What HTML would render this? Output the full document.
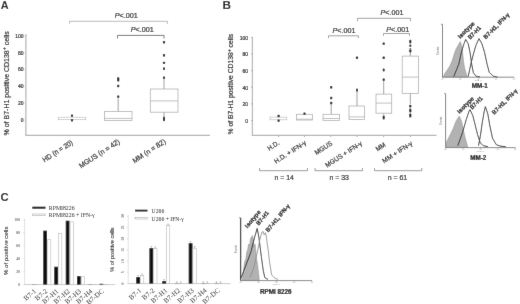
<!DOCTYPE html>
<html><head><meta charset="utf-8"><style>
html,body{margin:0;padding:0;background:#fff;}
svg{display:block;}
</style></head><body>
<svg width="520" height="304" viewBox="0 0 520 304">
<defs><filter id="soft" x="0" y="0" width="520" height="304" filterUnits="userSpaceOnUse"><feConvolveMatrix order="3" kernelMatrix="0.0052 0.0619 0.0052 0.0619 0.7314 0.0619 0.0052 0.0619 0.0052" divisor="1" edgeMode="duplicate"/></filter></defs>
<rect width="520" height="304" fill="#fff"/>
<g filter="url(#soft)">
<rect width="520" height="304" fill="#fff"/>
<text x="0" y="0" font-size="10.3" font-family="Liberation Sans, Arial, sans-serif" font-weight="bold" fill="#111" transform="translate(0.7 8.9) scale(1.06 1)">A</text>
<line x1="25.9" y1="34" x2="25.9" y2="135.3" stroke="#b9b9b9" stroke-width="1.3"/>
<line x1="25.3" y1="135.3" x2="210" y2="135.3" stroke="#b4b4b4" stroke-width="1.2"/>
<text x="23.6" y="121.8" font-size="5" text-anchor="end" font-family="Liberation Sans, Arial, sans-serif" fill="#222" stroke="#222" stroke-width="0.2">0</text>
<line x1="24.6" y1="120.0" x2="25.5" y2="120.0" stroke="#c4c4c4" stroke-width="1"/>
<text x="23.6" y="105.0" font-size="5" text-anchor="end" font-family="Liberation Sans, Arial, sans-serif" fill="#222" stroke="#222" stroke-width="0.2">20</text>
<line x1="24.6" y1="103.2" x2="25.5" y2="103.2" stroke="#c4c4c4" stroke-width="1"/>
<text x="23.6" y="88.2" font-size="5" text-anchor="end" font-family="Liberation Sans, Arial, sans-serif" fill="#222" stroke="#222" stroke-width="0.2">40</text>
<line x1="24.6" y1="86.4" x2="25.5" y2="86.4" stroke="#c4c4c4" stroke-width="1"/>
<text x="23.6" y="71.39999999999999" font-size="5" text-anchor="end" font-family="Liberation Sans, Arial, sans-serif" fill="#222" stroke="#222" stroke-width="0.2">60</text>
<line x1="24.6" y1="69.6" x2="25.5" y2="69.6" stroke="#c4c4c4" stroke-width="1"/>
<text x="23.6" y="54.599999999999994" font-size="5" text-anchor="end" font-family="Liberation Sans, Arial, sans-serif" fill="#222" stroke="#222" stroke-width="0.2">80</text>
<line x1="24.6" y1="52.8" x2="25.5" y2="52.8" stroke="#c4c4c4" stroke-width="1"/>
<text x="23.6" y="37.8" font-size="5" text-anchor="end" font-family="Liberation Sans, Arial, sans-serif" fill="#222" stroke="#222" stroke-width="0.2">100</text>
<line x1="24.6" y1="36.0" x2="25.5" y2="36.0" stroke="#c4c4c4" stroke-width="1"/>
<text x="8.7" y="83.3" font-size="7.0" text-anchor="middle" font-family="Liberation Sans, Arial, sans-serif" fill="#222" stroke="#222" stroke-width="0.2" transform="rotate(-90 8.7 83.3)">% of B7-H1 positive CD138<tspan font-size="5.4" dy="-2.6">+</tspan><tspan dy="2.6"> cells</tspan></text>
<rect x="58.2" y="117.2" width="27.6" height="2.5" fill="#fff" stroke="#b5b5b5" stroke-width="0.6"/>
<rect x="70.95" y="114.40" width="2.1" height="2.4" rx="0.6" fill="#111"/>
<rect x="70.95" y="119.00" width="2.1" height="2.4" rx="0.6" fill="#111"/>
<line x1="118.2" y1="98.5" x2="118.2" y2="111.6" stroke="#a0a0a0" stroke-width="1.0"/>
<rect x="104.5" y="111.6" width="27.5" height="8.900000000000006" fill="#fff" stroke="#ababab" stroke-width="0.75"/>
<line x1="104.5" y1="118.4" x2="132" y2="118.4" stroke="#ababab" stroke-width="0.75"/>
<rect x="117.15" y="77.30" width="2.1" height="2.4" rx="0.6" fill="#111"/>
<rect x="117.15" y="79.00" width="2.1" height="2.4" rx="0.6" fill="#111"/>
<rect x="117.15" y="84.80" width="2.1" height="2.4" rx="0.6" fill="#111"/>
<rect x="117.15" y="95.40" width="2.1" height="2.4" rx="0.6" fill="#111"/>
<line x1="164" y1="78" x2="164" y2="89" stroke="#a0a0a0" stroke-width="1.0"/>
<line x1="164" y1="112.2" x2="164" y2="116.2" stroke="#a0a0a0" stroke-width="1.0"/>
<rect x="150.3" y="89" width="27.69999999999999" height="23.200000000000003" fill="#fff" stroke="#ababab" stroke-width="0.75"/>
<line x1="150.3" y1="100.9" x2="178" y2="100.9" stroke="#ababab" stroke-width="0.75"/>
<rect x="162.95" y="41.00" width="2.1" height="2.4" rx="0.6" fill="#111"/>
<rect x="162.95" y="54.10" width="2.1" height="2.4" rx="0.6" fill="#111"/>
<rect x="162.95" y="61.70" width="2.1" height="2.4" rx="0.6" fill="#111"/>
<rect x="163.05" y="67.2" width="1.9" height="2.8999999999999915" rx="0.95" fill="#111"/>
<rect x="162.95" y="76.40" width="2.1" height="2.4" rx="0.6" fill="#111"/>
<rect x="163.0" y="116.6" width="2.0" height="4.6000000000000085" rx="1.0" fill="#111"/>
<path d="M69.5 23.900000000000002V21.3H167.5V23.900000000000002" fill="none" stroke="#a8a8a8" stroke-width="0.8"/>
<text x="126.2" y="17.8" font-size="7.2" text-anchor="middle" font-family="Liberation Sans, Arial, sans-serif" fill="#222" stroke="#222" stroke-width="0.2"><tspan font-style="italic">P</tspan>&lt;.001</text>
<path d="M117.5 38.4V35.4H164V38.4" fill="none" stroke="#6a6a6a" stroke-width="0.95"/>
<text x="142.3" y="32.4" font-size="7.2" text-anchor="middle" font-family="Liberation Sans, Arial, sans-serif" fill="#222" stroke="#222" stroke-width="0.2"><tspan font-style="italic">P</tspan>&lt;.001</text>
<text x="0" y="0" font-size="7.3" text-anchor="start" font-family="Liberation Sans, Arial, sans-serif" fill="#222" stroke="#222" stroke-width="0.2" transform="translate(44.6 162.5) rotate(-33) scale(0.907 1)">HD (n = 20)</text>
<text x="0" y="0" font-size="7.3" text-anchor="start" font-family="Liberation Sans, Arial, sans-serif" fill="#222" stroke="#222" stroke-width="0.2" transform="translate(80.89999999999999 168.5) rotate(-33) scale(0.958 1)">MGUS (n = 42)</text>
<text x="0" y="0" font-size="7.3" text-anchor="start" font-family="Liberation Sans, Arial, sans-serif" fill="#222" stroke="#222" stroke-width="0.2" transform="translate(134.4 163.5) rotate(-33) scale(0.966 1)">MM (n = 82)</text>
<text x="0" y="0" font-size="10.1" font-family="Liberation Sans, Arial, sans-serif" font-weight="bold" fill="#111" transform="translate(222.6 8.8) scale(1.17 1)">B</text>
<line x1="252.4" y1="37" x2="252.4" y2="135.3" stroke="#b9b9b9" stroke-width="1.3"/>
<line x1="251.8" y1="135.3" x2="436.5" y2="135.3" stroke="#b4b4b4" stroke-width="1.2"/>
<text x="248.0" y="122.8" font-size="5" text-anchor="end" font-family="Liberation Sans, Arial, sans-serif" fill="#222" stroke="#222" stroke-width="0.2">0</text>
<line x1="251.0" y1="120.5" x2="252" y2="120.5" stroke="#aaa" stroke-width="1"/>
<text x="248.0" y="106.2" font-size="5" text-anchor="end" font-family="Liberation Sans, Arial, sans-serif" fill="#222" stroke="#222" stroke-width="0.2">20</text>
<line x1="251.0" y1="103.9" x2="252" y2="103.9" stroke="#aaa" stroke-width="1"/>
<text x="248.0" y="89.60000000000001" font-size="5" text-anchor="end" font-family="Liberation Sans, Arial, sans-serif" fill="#222" stroke="#222" stroke-width="0.2">40</text>
<line x1="251.0" y1="87.30000000000001" x2="252" y2="87.30000000000001" stroke="#aaa" stroke-width="1"/>
<text x="248.0" y="73.0" font-size="5" text-anchor="end" font-family="Liberation Sans, Arial, sans-serif" fill="#222" stroke="#222" stroke-width="0.2">60</text>
<line x1="251.0" y1="70.7" x2="252" y2="70.7" stroke="#aaa" stroke-width="1"/>
<text x="248.0" y="56.400000000000006" font-size="5" text-anchor="end" font-family="Liberation Sans, Arial, sans-serif" fill="#222" stroke="#222" stroke-width="0.2">80</text>
<line x1="251.0" y1="54.10000000000001" x2="252" y2="54.10000000000001" stroke="#aaa" stroke-width="1"/>
<text x="248.0" y="39.8" font-size="5" text-anchor="end" font-family="Liberation Sans, Arial, sans-serif" fill="#222" stroke="#222" stroke-width="0.2">100</text>
<line x1="251.0" y1="37.5" x2="252" y2="37.5" stroke="#aaa" stroke-width="1"/>
<text x="233.3" y="84.2" font-size="6.75" text-anchor="middle" font-family="Liberation Sans, Arial, sans-serif" fill="#222" stroke="#222" stroke-width="0.2" transform="rotate(-90 233.3 84.2)">% of B7-H1 positive CD138<tspan font-size="5.2" dy="-2.5">+</tspan><tspan dy="2.5"> cells</tspan></text>
<line x1="278.6" y1="135.6" x2="278.6" y2="137" stroke="#a8a8a8" stroke-width="1"/>
<line x1="304.5" y1="135.6" x2="304.5" y2="137" stroke="#a8a8a8" stroke-width="1"/>
<line x1="330.8" y1="135.6" x2="330.8" y2="137" stroke="#a8a8a8" stroke-width="1"/>
<line x1="357" y1="135.6" x2="357" y2="137" stroke="#a8a8a8" stroke-width="1"/>
<line x1="383.6" y1="135.6" x2="383.6" y2="137" stroke="#a8a8a8" stroke-width="1"/>
<line x1="410.3" y1="135.6" x2="410.3" y2="137" stroke="#a8a8a8" stroke-width="1"/>
<rect x="270" y="117.1" width="16.8" height="2.7" fill="#fff" stroke="#b5b5b5" stroke-width="0.6"/>
<rect x="277.55" y="114.80" width="2.1" height="2.4" rx="0.6" fill="#111"/>
<rect x="277.55" y="119.40" width="2.1" height="2.4" rx="0.6" fill="#111"/>
<rect x="296.5" y="114.3" width="16.0" height="5.700000000000003" fill="#fff" stroke="#ababab" stroke-width="0.75"/>
<line x1="296.5" y1="119.2" x2="312.5" y2="119.2" stroke="#ababab" stroke-width="0.75"/>
<rect x="303.45" y="112.40" width="2.1" height="2.4" rx="0.6" fill="#111"/>
<line x1="331.2" y1="103" x2="331.2" y2="114.3" stroke="#a0a0a0" stroke-width="1.0"/>
<rect x="323" y="114.3" width="16.5" height="6.200000000000003" fill="#fff" stroke="#ababab" stroke-width="0.75"/>
<line x1="323" y1="118.5" x2="339.5" y2="118.5" stroke="#ababab" stroke-width="0.75"/>
<rect x="330.15" y="86.10" width="2.1" height="2.4" rx="0.6" fill="#111"/>
<rect x="330.15" y="96.80" width="2.1" height="2.4" rx="0.6" fill="#111"/>
<rect x="330.15" y="101.80" width="2.1" height="2.4" rx="0.6" fill="#111"/>
<line x1="357" y1="91.5" x2="357" y2="106" stroke="#a0a0a0" stroke-width="1.0"/>
<rect x="349" y="106" width="15.600000000000023" height="13.5" fill="#fff" stroke="#ababab" stroke-width="0.75"/>
<line x1="349" y1="116.9" x2="364.6" y2="116.9" stroke="#ababab" stroke-width="0.75"/>
<rect x="356.05" y="88.6" width="1.9" height="3.0" rx="0.95" fill="#111"/>
<rect x="355.95" y="56.60" width="2.1" height="2.4" rx="0.6" fill="#111"/>
<line x1="383.7" y1="79.6" x2="383.7" y2="94.1" stroke="#a0a0a0" stroke-width="1.0"/>
<line x1="383.7" y1="113.2" x2="383.7" y2="114.8" stroke="#a0a0a0" stroke-width="1.0"/>
<rect x="376" y="94.1" width="15.699999999999989" height="19.10000000000001" fill="#fff" stroke="#ababab" stroke-width="0.75"/>
<line x1="376" y1="103.1" x2="391.7" y2="103.1" stroke="#ababab" stroke-width="0.75"/>
<rect x="382.65" y="42.40" width="2.1" height="2.4" rx="0.6" fill="#111"/>
<rect x="382.65" y="56.60" width="2.1" height="2.4" rx="0.6" fill="#111"/>
<rect x="382.75" y="68.6" width="1.9" height="2.8000000000000114" rx="0.95" fill="#111"/>
<rect x="382.65" y="78.40" width="2.1" height="2.4" rx="0.6" fill="#111"/>
<rect x="382.7" y="115.6" width="2.0" height="3.9000000000000057" rx="1.0" fill="#111"/>
<line x1="410.3" y1="52.5" x2="410.3" y2="56.1" stroke="#a0a0a0" stroke-width="1.0"/>
<line x1="410.3" y1="93.4" x2="410.3" y2="103.8" stroke="#a0a0a0" stroke-width="1.0"/>
<rect x="402.2" y="56.1" width="16.19999999999999" height="37.300000000000004" fill="#fff" stroke="#ababab" stroke-width="0.75"/>
<line x1="402.2" y1="77.1" x2="418.4" y2="77.1" stroke="#ababab" stroke-width="0.75"/>
<rect x="409.3" y="39.8" width="2.0" height="3.700000000000003" rx="1.0" fill="#111"/>
<rect x="409.3" y="44.6" width="2.0" height="2.5" rx="1.0" fill="#111"/>
<rect x="409.3" y="48.2" width="2.0" height="1.5999999999999943" rx="1.0" fill="#111"/>
<path d="M408.6 50.2 L412 50.2 L410.3 53.2Z" fill="#111"/>
<rect x="409.15000000000003" y="104.8" width="2.3" height="2.799999999999997" rx="1.15" fill="#111"/>
<rect x="409.25" y="108.6" width="2.1" height="4.0" rx="1.05" fill="#111"/>
<rect x="409.25" y="113.5" width="2.1" height="4.099999999999994" rx="1.05" fill="#111"/>
<path d="M328.5 38.199999999999996V35.8H358.5V38.199999999999996" fill="none" stroke="#8c8c8c" stroke-width="0.85"/>
<text x="344" y="32.8" font-size="7.2" text-anchor="middle" font-family="Liberation Sans, Arial, sans-serif" fill="#222" stroke="#222" stroke-width="0.2"><tspan font-style="italic">P</tspan>&lt;.001</text>
<path d="M357.5 21.3V18.3H410.5V21.3" fill="none" stroke="#8c8c8c" stroke-width="0.85"/>
<text x="392" y="14.8" font-size="7.2" text-anchor="middle" font-family="Liberation Sans, Arial, sans-serif" fill="#222" stroke="#222" stroke-width="0.2"><tspan font-style="italic">P</tspan>&lt;.001</text>
<path d="M383.5 35.9V33.5H409.5V35.9" fill="none" stroke="#8c8c8c" stroke-width="0.85"/>
<text x="397.8" y="31.6" font-size="7.2" text-anchor="middle" font-family="Liberation Sans, Arial, sans-serif" fill="#222" stroke="#222" stroke-width="0.2"><tspan font-style="italic">P</tspan>&lt;.001</text>
<text x="0" y="0" font-size="6.8" text-anchor="start" font-family="Liberation Sans, Arial, sans-serif" fill="#222" stroke="#222" stroke-width="0.2" transform="translate(269.3 150.89999999999998) rotate(-33) scale(0.926 1)">H.D.</text>
<text x="0" y="0" font-size="6.8" text-anchor="start" font-family="Liberation Sans, Arial, sans-serif" fill="#222" stroke="#222" stroke-width="0.2" transform="translate(275.90000000000003 163.89999999999998) rotate(-33) scale(0.972 1)">H.D. + IFN-γ</text>
<text x="0" y="0" font-size="6.8" text-anchor="start" font-family="Liberation Sans, Arial, sans-serif" fill="#222" stroke="#222" stroke-width="0.2" transform="translate(316.5 155.2) rotate(-33) scale(0.961 1)">MGUS</text>
<text x="0" y="0" font-size="6.8" text-anchor="start" font-family="Liberation Sans, Arial, sans-serif" fill="#222" stroke="#222" stroke-width="0.2" transform="translate(327.1 167.7) rotate(-33) scale(0.949 1)">MGUS + IFN-γ</text>
<text x="0" y="0" font-size="6.8" text-anchor="start" font-family="Liberation Sans, Arial, sans-serif" fill="#222" stroke="#222" stroke-width="0.2" transform="translate(377.40000000000003 151.6) rotate(-33) scale(0.918 1)">MM</text>
<text x="0" y="0" font-size="6.8" text-anchor="start" font-family="Liberation Sans, Arial, sans-serif" fill="#222" stroke="#222" stroke-width="0.2" transform="translate(384.1 163.39999999999998) rotate(-33) scale(0.969 1)">MM + IFN-γ</text>
<path d="M259.5 168.0V170.7H307.5V168.0" fill="none" stroke="#8c8c8c" stroke-width="0.9"/>
<text x="284.2" y="180.0" font-size="6.9" text-anchor="middle" font-family="Liberation Sans, Arial, sans-serif" fill="#222" stroke="#222" stroke-width="0.2">n = 14</text>
<path d="M315 168.0V170.7H362.5V168.0" fill="none" stroke="#8c8c8c" stroke-width="0.9"/>
<text x="339.2" y="180.0" font-size="6.9" text-anchor="middle" font-family="Liberation Sans, Arial, sans-serif" fill="#222" stroke="#222" stroke-width="0.2">n = 33</text>
<path d="M374.5 168.0V170.7H421.8V168.0" fill="none" stroke="#8c8c8c" stroke-width="0.9"/>
<text x="397.4" y="180.0" font-size="6.9" text-anchor="middle" font-family="Liberation Sans, Arial, sans-serif" fill="#222" stroke="#222" stroke-width="0.2">n = 61</text>
<path d="M443.4 77.1 L444.4 74.0 L446.5 71.0 L448.6 68.0 L450.3 65.0 L452.2 60.5 L454.2 54.0 L455.8 49.5 L458.0 45.5 L460.3 41.5 L461.3 44.5 L462.3 49.0 L463.0 56.0 L463.6 62.0 L464.6 68.0 L466.0 73.0 L467.4 76.5 L467.6 77.1 Z" fill="#b2b2b2" stroke="#8a8a8a" stroke-width="0.5" stroke-linejoin="round"/>
<path d="M453.7 76.6 L458.8 64.2 L461.4 52.2 L464.0 43.7 L465.7 39.4 L468.2 43.7 L470.0 52.2 L471.7 64.2 L473.4 72.8 L476.0 76.2 L480.0 76.8" fill="none" stroke="#1a1a1a" stroke-width="0.85" stroke-linejoin="round"/>
<path d="M468.2 76.6 L470.8 64.2 L473.4 54.0 L475.9 45.4 L479.0 38.6 L481.9 43.7 L484.5 52.2 L487.1 64.2 L489.3 72.5 L493.5 76.2 L497.5 77.0" fill="none" stroke="#1a1a1a" stroke-width="0.85" stroke-linejoin="round"/>
<line x1="442.5" y1="24.3" x2="442.5" y2="77.2" stroke="#7a7a7a" stroke-width="1.0"/>
<line x1="440.9" y1="24.3" x2="442.5" y2="24.3" stroke="#7a7a7a" stroke-width="0.8"/>
<line x1="442.5" y1="77.2" x2="514" y2="77.2" stroke="#7a7a7a" stroke-width="0.9"/>
<line x1="442.5" y1="77.2" x2="442.5" y2="78.4" stroke="#7a7a7a" stroke-width="0.6"/>
<line x1="460.375" y1="77.2" x2="460.375" y2="78.4" stroke="#7a7a7a" stroke-width="0.6"/>
<line x1="478.25" y1="77.2" x2="478.25" y2="78.4" stroke="#7a7a7a" stroke-width="0.6"/>
<line x1="496.125" y1="77.2" x2="496.125" y2="78.4" stroke="#7a7a7a" stroke-width="0.6"/>
<line x1="514.0" y1="77.2" x2="514.0" y2="78.4" stroke="#7a7a7a" stroke-width="0.6"/>
<text x="439.3" y="50.75" font-size="2.6" text-anchor="middle" font-family="Liberation Sans, Arial, sans-serif" fill="#666" transform="rotate(-90 439.3 50.75)">Events</text>
<text x="478.25" y="81.10000000000001" font-size="2.5" text-anchor="middle" font-family="Liberation Sans, Arial, sans-serif" fill="#888">FL2-H</text>
<text x="442.5" y="79.8" font-size="1.8" text-anchor="middle" font-family="Liberation Sans, Arial, sans-serif" fill="#999">10<tspan font-size="1.2" dy="-0.6">0</tspan></text>
<text x="460.375" y="79.8" font-size="1.8" text-anchor="middle" font-family="Liberation Sans, Arial, sans-serif" fill="#999">10<tspan font-size="1.2" dy="-0.6">1</tspan></text>
<text x="478.25" y="79.8" font-size="1.8" text-anchor="middle" font-family="Liberation Sans, Arial, sans-serif" fill="#999">10<tspan font-size="1.2" dy="-0.6">2</tspan></text>
<text x="496.125" y="79.8" font-size="1.8" text-anchor="middle" font-family="Liberation Sans, Arial, sans-serif" fill="#999">10<tspan font-size="1.2" dy="-0.6">3</tspan></text>
<text x="514.0" y="79.8" font-size="1.8" text-anchor="middle" font-family="Liberation Sans, Arial, sans-serif" fill="#999">10<tspan font-size="1.2" dy="-0.6">4</tspan></text>
<text x="0" y="0" font-size="6.0" text-anchor="start" font-family="Liberation Sans, Arial, sans-serif" font-weight="bold" fill="#111" stroke="#111" stroke-width="0.2" transform="translate(460.3 38.9) rotate(-45) scale(1.000 1)">Isotype</text>
<text x="0" y="0" font-size="6.0" text-anchor="start" font-family="Liberation Sans, Arial, sans-serif" font-weight="bold" fill="#111" stroke="#111" stroke-width="0.2" transform="translate(470.2 39.699999999999996) rotate(-45) scale(0.923 1)">B7-H1</text>
<text x="0" y="0" font-size="6.0" text-anchor="start" font-family="Liberation Sans, Arial, sans-serif" font-weight="bold" fill="#111" stroke="#111" stroke-width="0.2" transform="translate(485.8 39.5) rotate(-45) scale(0.967 1)">B7-H1, IFN-γ</text>
<text x="479.8" y="88.1" font-size="6.3" text-anchor="middle" font-family="Liberation Sans, Arial, sans-serif" font-weight="bold" fill="#111" stroke="#111" stroke-width="0.2">MM-1</text>
<path d="M446.6 141.9 L449.4 136.3 L453.1 128.8 L455.9 121.3 L459.3 116.0 L461.6 121.3 L463.5 130.6 L465.3 138.2 L467.2 144.7 L467.8 147.2 L446.0 147.2 Z" fill="#b2b2b2" stroke="#8a8a8a" stroke-width="0.5" stroke-linejoin="round"/>
<path d="M457.8 145.7 L462.5 132.5 L466.3 119.4 L469.1 111.0 L470.0 109.6 L472.8 115.6 L474.7 123.1 L477.5 134.4 L480.3 142.8 L483.2 145.7 L488.0 146.6" fill="none" stroke="#1a1a1a" stroke-width="0.85" stroke-linejoin="round"/>
<path d="M478.5 145.7 L480.3 136.3 L482.2 123.1 L484.1 111.9 L485.4 106.6 L487.8 113.8 L489.7 125.0 L492.5 138.2 L496.3 144.7 L500.0 146.0 L506.0 146.8" fill="none" stroke="#1a1a1a" stroke-width="0.85" stroke-linejoin="round"/>
<line x1="445.6" y1="93.6" x2="445.6" y2="147.6" stroke="#7a7a7a" stroke-width="1.0"/>
<line x1="444.0" y1="93.6" x2="445.6" y2="93.6" stroke="#7a7a7a" stroke-width="0.8"/>
<line x1="445.6" y1="147.6" x2="515.4" y2="147.6" stroke="#7a7a7a" stroke-width="0.9"/>
<line x1="445.6" y1="147.6" x2="445.6" y2="148.79999999999998" stroke="#7a7a7a" stroke-width="0.6"/>
<line x1="463.05" y1="147.6" x2="463.05" y2="148.79999999999998" stroke="#7a7a7a" stroke-width="0.6"/>
<line x1="480.5" y1="147.6" x2="480.5" y2="148.79999999999998" stroke="#7a7a7a" stroke-width="0.6"/>
<line x1="497.95" y1="147.6" x2="497.95" y2="148.79999999999998" stroke="#7a7a7a" stroke-width="0.6"/>
<line x1="515.4" y1="147.6" x2="515.4" y2="148.79999999999998" stroke="#7a7a7a" stroke-width="0.6"/>
<text x="442.40000000000003" y="120.6" font-size="2.6" text-anchor="middle" font-family="Liberation Sans, Arial, sans-serif" fill="#666" transform="rotate(-90 442.40000000000003 120.6)">Events</text>
<text x="480.5" y="151.5" font-size="2.5" text-anchor="middle" font-family="Liberation Sans, Arial, sans-serif" fill="#888">FL2-H</text>
<text x="445.6" y="150.2" font-size="1.8" text-anchor="middle" font-family="Liberation Sans, Arial, sans-serif" fill="#999">10<tspan font-size="1.2" dy="-0.6">0</tspan></text>
<text x="463.05" y="150.2" font-size="1.8" text-anchor="middle" font-family="Liberation Sans, Arial, sans-serif" fill="#999">10<tspan font-size="1.2" dy="-0.6">1</tspan></text>
<text x="480.5" y="150.2" font-size="1.8" text-anchor="middle" font-family="Liberation Sans, Arial, sans-serif" fill="#999">10<tspan font-size="1.2" dy="-0.6">2</tspan></text>
<text x="497.95" y="150.2" font-size="1.8" text-anchor="middle" font-family="Liberation Sans, Arial, sans-serif" fill="#999">10<tspan font-size="1.2" dy="-0.6">3</tspan></text>
<text x="515.4" y="150.2" font-size="1.8" text-anchor="middle" font-family="Liberation Sans, Arial, sans-serif" fill="#999">10<tspan font-size="1.2" dy="-0.6">4</tspan></text>
<text x="0" y="0" font-size="6.0" text-anchor="start" font-family="Liberation Sans, Arial, sans-serif" font-weight="bold" fill="#111" stroke="#111" stroke-width="0.2" transform="translate(459.6 113.89999999999999) rotate(-45) scale(1.000 1)">Isotype</text>
<text x="0" y="0" font-size="6.0" text-anchor="start" font-family="Liberation Sans, Arial, sans-serif" font-weight="bold" fill="#111" stroke="#111" stroke-width="0.2" transform="translate(472.2 109.8) rotate(-45) scale(0.894 1)">B7-H1</text>
<text x="0" y="0" font-size="6.0" text-anchor="start" font-family="Liberation Sans, Arial, sans-serif" font-weight="bold" fill="#111" stroke="#111" stroke-width="0.2" transform="translate(494.3 114.89999999999999) rotate(-45) scale(0.939 1)">B7-H1, IFN-γ</text>
<text x="478.3" y="159.6" font-size="6.3" text-anchor="middle" font-family="Liberation Sans, Arial, sans-serif" font-weight="bold" fill="#111" stroke="#111" stroke-width="0.2">MM-2</text>
<path d="M242.6 279.0 L243.5 270.0 L244.6 262.0 L245.8 259.0 L246.8 252.0 L247.6 250.0 L248.6 244.0 L249.6 246.0 L250.4 239.0 L251.4 237.0 L252.6 235.5 L253.4 240.0 L254.2 247.0 L255.0 244.0 L255.8 251.0 L256.6 259.0 L257.4 263.0 L258.2 270.0 L259.0 277.0 L259.2 280.4 L242.0 280.4 Z" fill="#b2b2b2" stroke="#8a8a8a" stroke-width="0.5" stroke-linejoin="round"/>
<path d="M241.0 278.3 L244.0 270.2 L247.5 261.0 L251.0 251.8 L254.4 238.0 L257.2 228.4 L259.0 238.0 L261.3 256.4 L263.2 270.2 L264.8 277.6 L268.0 279.5" fill="none" stroke="#1a1a1a" stroke-width="0.85" stroke-linejoin="round"/>
<path d="M249.8 277.6 L252.6 271.0 L254.4 265.6 L256.2 257.0 L257.9 249.5 L259.5 241.0 L260.9 235.7 L262.0 232.0 L263.2 231.6 L264.2 235.0 L265.5 232.6 L266.4 237.0 L267.1 242.6 L268.2 250.0 L269.4 261.0 L270.5 268.0 L271.7 274.9 L274.0 277.6 L278.0 279.5" fill="none" stroke="#8a8a8a" stroke-width="0.85" stroke-linejoin="round"/>
<line x1="240.6" y1="217.8" x2="240.6" y2="280.6" stroke="#333" stroke-width="1.3"/>
<line x1="239.0" y1="217.8" x2="240.6" y2="217.8" stroke="#7a7a7a" stroke-width="0.8"/>
<line x1="240.6" y1="280.6" x2="312" y2="280.6" stroke="#7a7a7a" stroke-width="0.9"/>
<line x1="240.6" y1="280.6" x2="240.6" y2="281.8" stroke="#7a7a7a" stroke-width="0.6"/>
<line x1="258.45" y1="280.6" x2="258.45" y2="281.8" stroke="#7a7a7a" stroke-width="0.6"/>
<line x1="276.3" y1="280.6" x2="276.3" y2="281.8" stroke="#7a7a7a" stroke-width="0.6"/>
<line x1="294.15" y1="280.6" x2="294.15" y2="281.8" stroke="#7a7a7a" stroke-width="0.6"/>
<line x1="312.0" y1="280.6" x2="312.0" y2="281.8" stroke="#7a7a7a" stroke-width="0.6"/>
<text x="237.4" y="249.20000000000002" font-size="2.6" text-anchor="middle" font-family="Liberation Sans, Arial, sans-serif" fill="#666" transform="rotate(-90 237.4 249.20000000000002)">Events</text>
<text x="276.3" y="284.5" font-size="2.5" text-anchor="middle" font-family="Liberation Sans, Arial, sans-serif" fill="#888">FL2-H</text>
<text x="240.6" y="283.20000000000005" font-size="1.8" text-anchor="middle" font-family="Liberation Sans, Arial, sans-serif" fill="#999">10<tspan font-size="1.2" dy="-0.6">0</tspan></text>
<text x="258.45" y="283.20000000000005" font-size="1.8" text-anchor="middle" font-family="Liberation Sans, Arial, sans-serif" fill="#999">10<tspan font-size="1.2" dy="-0.6">1</tspan></text>
<text x="276.3" y="283.20000000000005" font-size="1.8" text-anchor="middle" font-family="Liberation Sans, Arial, sans-serif" fill="#999">10<tspan font-size="1.2" dy="-0.6">2</tspan></text>
<text x="294.15" y="283.20000000000005" font-size="1.8" text-anchor="middle" font-family="Liberation Sans, Arial, sans-serif" fill="#999">10<tspan font-size="1.2" dy="-0.6">3</tspan></text>
<text x="312.0" y="283.20000000000005" font-size="1.8" text-anchor="middle" font-family="Liberation Sans, Arial, sans-serif" fill="#999">10<tspan font-size="1.2" dy="-0.6">4</tspan></text>
<text x="0" y="0" font-size="6.0" text-anchor="start" font-family="Liberation Sans, Arial, sans-serif" font-weight="bold" fill="#111" stroke="#111" stroke-width="0.2" transform="translate(247.60000000000002 228.39999999999998) rotate(-50) scale(1.000 1)">Isotype</text>
<text x="0" y="0" font-size="6.0" text-anchor="start" font-family="Liberation Sans, Arial, sans-serif" font-weight="bold" fill="#111" stroke="#111" stroke-width="0.2" transform="translate(258.8 225.79999999999998) rotate(-50) scale(0.952 1)">B7-H1</text>
<text x="0" y="0" font-size="6.0" text-anchor="start" font-family="Liberation Sans, Arial, sans-serif" font-weight="bold" fill="#111" stroke="#111" stroke-width="0.2" transform="translate(268.2 232.6) rotate(-50) scale(0.967 1)">B7-H1, IFN-γ</text>
<text x="275.8" y="293.9" font-size="6.3" text-anchor="middle" font-family="Liberation Sans, Arial, sans-serif" font-weight="bold" fill="#111" stroke="#111" stroke-width="0.2">RPMI 8226</text>
<text x="0" y="0" font-size="10.6" font-family="Liberation Sans, Arial, sans-serif" font-weight="bold" fill="#111" transform="translate(0.5 201.2) scale(1.07 1)">C</text>
<rect x="32.3" y="206.7" width="13.2" height="2.0" fill="#111"/>
<rect x="32.5" y="214.0" width="12.8" height="1.6" fill="#fff" stroke="#aaa" stroke-width="0.6"/>
<text x="48.8" y="209.5" font-size="5.8" text-anchor="start" font-family="Liberation Serif, Times New Roman, serif" fill="#222">RPMI8226</text>
<text x="48.8" y="217.1" font-size="5.8" text-anchor="start" font-family="Liberation Serif, Times New Roman, serif" fill="#222">RPMI8226 + IFN-γ</text>
<line x1="24.6" y1="219" x2="24.6" y2="284.6" stroke="#ccc" stroke-width="0.6"/>
<line x1="24.6" y1="284.6" x2="115.2" y2="284.6" stroke="#bbb" stroke-width="0.8"/>
<text x="20.2" y="286.0" font-size="3.9" text-anchor="end" font-family="Liberation Serif, Times New Roman, serif" fill="#222">0</text>
<line x1="23.3" y1="284.6" x2="24.6" y2="284.6" stroke="#bbb" stroke-width="0.5"/>
<text x="20.2" y="273.0" font-size="3.9" text-anchor="end" font-family="Liberation Serif, Times New Roman, serif" fill="#222">20</text>
<line x1="23.3" y1="271.6" x2="24.6" y2="271.6" stroke="#bbb" stroke-width="0.5"/>
<text x="20.2" y="260.0" font-size="3.9" text-anchor="end" font-family="Liberation Serif, Times New Roman, serif" fill="#222">40</text>
<line x1="23.3" y1="258.6" x2="24.6" y2="258.6" stroke="#bbb" stroke-width="0.5"/>
<text x="20.2" y="247.00000000000003" font-size="3.9" text-anchor="end" font-family="Liberation Serif, Times New Roman, serif" fill="#222">60</text>
<line x1="23.3" y1="245.60000000000002" x2="24.6" y2="245.60000000000002" stroke="#bbb" stroke-width="0.5"/>
<text x="20.2" y="234.00000000000003" font-size="3.9" text-anchor="end" font-family="Liberation Serif, Times New Roman, serif" fill="#222">80</text>
<line x1="23.3" y1="232.60000000000002" x2="24.6" y2="232.60000000000002" stroke="#bbb" stroke-width="0.5"/>
<text x="20.2" y="221.00000000000003" font-size="3.9" text-anchor="end" font-family="Liberation Serif, Times New Roman, serif" fill="#222">100</text>
<line x1="23.3" y1="219.60000000000002" x2="24.6" y2="219.60000000000002" stroke="#bbb" stroke-width="0.5"/>
<text x="0" y="0" font-size="6.1" text-anchor="middle" font-family="Liberation Sans, Arial, sans-serif" fill="#222" stroke="#222" stroke-width="0.08" transform="translate(8.0 250.8) rotate(-90) scale(1.002 1)">% of positive cells</text>
<rect x="32" y="284.41" width="3.7" height="0.20" fill="#0a0a0a"/>
<rect x="36.3" y="284.28" width="3.3" height="0.33" fill="#fff" stroke="#aaa" stroke-width="0.5"/>
<text x="36.8" y="291.9" font-size="7.0" text-anchor="end" font-family="Liberation Serif, Times New Roman, serif" fill="#222" transform="rotate(-40 36.8 291.9)">B7-1</text>
<rect x="43.25" y="230.65" width="3.7" height="53.95" fill="#0a0a0a"/>
<rect x="47.55" y="239.75" width="3.3" height="44.85" fill="#fff" stroke="#aaa" stroke-width="0.5"/>
<text x="48.05" y="291.9" font-size="7.0" text-anchor="end" font-family="Liberation Serif, Times New Roman, serif" fill="#222" transform="rotate(-40 48.05 291.9)">B7-2</text>
<rect x="54.25" y="266.73" width="3.7" height="17.88" fill="#0a0a0a"/>
<rect x="58.55" y="233.25" width="3.3" height="51.35" fill="#fff" stroke="#aaa" stroke-width="0.5"/>
<text x="59.05" y="291.9" font-size="7.0" text-anchor="end" font-family="Liberation Serif, Times New Roman, serif" fill="#222" transform="rotate(-40 59.05 291.9)">B7-H1</text>
<rect x="65.75" y="220.71" width="3.7" height="63.90" fill="#0a0a0a"/>
<rect x="70.05" y="221.88" width="3.3" height="62.73" fill="#fff" stroke="#aaa" stroke-width="0.5"/>
<text x="70.55" y="291.9" font-size="7.0" text-anchor="end" font-family="Liberation Serif, Times New Roman, serif" fill="#222" transform="rotate(-40 70.55 291.9)">B7-H2</text>
<rect x="77" y="276.15" width="3.7" height="8.45" fill="#0a0a0a"/>
<rect x="81.3" y="276.80" width="3.3" height="7.80" fill="#fff" stroke="#aaa" stroke-width="0.5"/>
<text x="81.8" y="291.9" font-size="7.0" text-anchor="end" font-family="Liberation Serif, Times New Roman, serif" fill="#222" transform="rotate(-40 81.8 291.9)">B7-H3</text>
<rect x="88.25" y="284.41" width="3.7" height="0.20" fill="#0a0a0a"/>
<rect x="92.55" y="284.41" width="3.3" height="0.20" fill="#fff" stroke="#aaa" stroke-width="0.5"/>
<text x="93.05" y="291.9" font-size="7.0" text-anchor="end" font-family="Liberation Serif, Times New Roman, serif" fill="#222" transform="rotate(-40 93.05 291.9)">B7-H4</text>
<rect x="99.5" y="283.82" width="3.7" height="0.78" fill="#0a0a0a"/>
<rect x="103.8" y="284.47" width="3.3" height="0.13" fill="#fff" stroke="#aaa" stroke-width="0.5"/>
<text x="104.3" y="291.9" font-size="7.0" text-anchor="end" font-family="Liberation Serif, Times New Roman, serif" fill="#222" transform="rotate(-40 104.3 291.9)">B7-DC</text>
<rect x="135" y="209.7" width="12.5" height="1.8" fill="#111"/>
<rect x="135" y="217.4" width="12.5" height="1.6" fill="#fff" stroke="#999" stroke-width="0.5"/>
<text x="151.6" y="213.0" font-size="5.7" text-anchor="start" font-family="Liberation Serif, Times New Roman, serif" fill="#222">U266</text>
<text x="151.6" y="220.7" font-size="5.7" text-anchor="start" font-family="Liberation Serif, Times New Roman, serif" fill="#222">U266 + IFN-γ</text>
<line x1="128.2" y1="215" x2="128.2" y2="283.6" stroke="#ccc" stroke-width="0.6"/>
<line x1="128.2" y1="283.6" x2="230.5" y2="283.6" stroke="#bbb" stroke-width="0.8"/>
<text x="123.8" y="283.6" font-size="3.6" text-anchor="middle" font-family="Liberation Serif, Times New Roman, serif" fill="#222" transform="rotate(-90 123.8 283.6)">0</text>
<line x1="127" y1="283.6" x2="128.2" y2="283.6" stroke="#bbb" stroke-width="0.5"/>
<text x="123.8" y="272.38500000000005" font-size="3.6" text-anchor="middle" font-family="Liberation Serif, Times New Roman, serif" fill="#222" transform="rotate(-90 123.8 272.38500000000005)">5</text>
<line x1="127" y1="272.38500000000005" x2="128.2" y2="272.38500000000005" stroke="#bbb" stroke-width="0.5"/>
<text x="123.8" y="261.17" font-size="3.6" text-anchor="middle" font-family="Liberation Serif, Times New Roman, serif" fill="#222" transform="rotate(-90 123.8 261.17)">10</text>
<line x1="127" y1="261.17" x2="128.2" y2="261.17" stroke="#bbb" stroke-width="0.5"/>
<text x="123.8" y="249.95500000000004" font-size="3.6" text-anchor="middle" font-family="Liberation Serif, Times New Roman, serif" fill="#222" transform="rotate(-90 123.8 249.95500000000004)">15</text>
<line x1="127" y1="249.95500000000004" x2="128.2" y2="249.95500000000004" stroke="#bbb" stroke-width="0.5"/>
<text x="123.8" y="238.74" font-size="3.6" text-anchor="middle" font-family="Liberation Serif, Times New Roman, serif" fill="#222" transform="rotate(-90 123.8 238.74)">20</text>
<line x1="127" y1="238.74" x2="128.2" y2="238.74" stroke="#bbb" stroke-width="0.5"/>
<text x="123.8" y="227.52500000000003" font-size="3.6" text-anchor="middle" font-family="Liberation Serif, Times New Roman, serif" fill="#222" transform="rotate(-90 123.8 227.52500000000003)">25</text>
<line x1="127" y1="227.52500000000003" x2="128.2" y2="227.52500000000003" stroke="#bbb" stroke-width="0.5"/>
<text x="123.8" y="216.31000000000003" font-size="3.6" text-anchor="middle" font-family="Liberation Serif, Times New Roman, serif" fill="#222" transform="rotate(-90 123.8 216.31000000000003)">30</text>
<line x1="127" y1="216.31000000000003" x2="128.2" y2="216.31000000000003" stroke="#bbb" stroke-width="0.5"/>
<text x="114.4" y="249.6" font-size="5.6" text-anchor="middle" font-family="Liberation Sans, Arial, sans-serif" fill="#222" stroke="#222" stroke-width="0.08" transform="rotate(-90 114.4 249.6)">% of positive cells</text>
<rect x="136.20000000000002" y="277.10" width="3.8" height="6.50" fill="#0a0a0a"/>
<rect x="140.4" y="275.53" width="3.4" height="8.07" fill="#fff" stroke="#aaa" stroke-width="0.5"/>
<line x1="138.10000000000002" y1="275.4953" x2="138.10000000000002" y2="277.0953" stroke="#777" stroke-width="0.4"/>
<line x1="137.3" y1="275.4953" x2="138.90000000000003" y2="275.4953" stroke="#777" stroke-width="0.4"/>
<line x1="142.10000000000002" y1="273.9252" x2="142.10000000000002" y2="275.52520000000004" stroke="#777" stroke-width="0.4"/>
<line x1="141.3" y1="273.9252" x2="142.90000000000003" y2="273.9252" stroke="#777" stroke-width="0.4"/>
<text x="141.9" y="291.3" font-size="7.0" text-anchor="end" font-family="Liberation Serif, Times New Roman, serif" fill="#222" transform="rotate(-40 141.9 291.3)">B7-1</text>
<rect x="149.4" y="248.16" width="3.8" height="35.44" fill="#0a0a0a"/>
<rect x="153.6" y="248.61" width="3.4" height="34.99" fill="#fff" stroke="#aaa" stroke-width="0.5"/>
<line x1="151.3" y1="246.56060000000002" x2="151.3" y2="248.16060000000002" stroke="#777" stroke-width="0.4"/>
<line x1="150.5" y1="246.56060000000002" x2="152.10000000000002" y2="246.56060000000002" stroke="#777" stroke-width="0.4"/>
<line x1="155.3" y1="247.00920000000002" x2="155.3" y2="248.60920000000002" stroke="#777" stroke-width="0.4"/>
<line x1="154.5" y1="247.00920000000002" x2="156.10000000000002" y2="247.00920000000002" stroke="#777" stroke-width="0.4"/>
<text x="155.1" y="291.3" font-size="7.0" text-anchor="end" font-family="Liberation Serif, Times New Roman, serif" fill="#222" transform="rotate(-40 155.1 291.3)">B7-2</text>
<rect x="162.20000000000002" y="281.13" width="3.8" height="2.47" fill="#0a0a0a"/>
<rect x="166.4" y="225.73" width="3.4" height="57.87" fill="#fff" stroke="#aaa" stroke-width="0.5"/>
<line x1="164.10000000000002" y1="279.5327" x2="164.10000000000002" y2="281.1327" stroke="#777" stroke-width="0.4"/>
<line x1="163.3" y1="279.5327" x2="164.90000000000003" y2="279.5327" stroke="#777" stroke-width="0.4"/>
<line x1="168.10000000000002" y1="224.13060000000004" x2="168.10000000000002" y2="225.73060000000004" stroke="#777" stroke-width="0.4"/>
<line x1="167.3" y1="224.13060000000004" x2="168.90000000000003" y2="224.13060000000004" stroke="#777" stroke-width="0.4"/>
<text x="167.9" y="291.3" font-size="7.0" text-anchor="end" font-family="Liberation Serif, Times New Roman, serif" fill="#222" transform="rotate(-40 167.9 291.3)">B7-H1</text>
<rect x="174.9" y="283.38" width="3.8" height="0.22" fill="#0a0a0a"/>
<rect x="179.1" y="283.38" width="3.4" height="0.22" fill="#fff" stroke="#aaa" stroke-width="0.5"/>
<line x1="176.8" y1="281.7757" x2="176.8" y2="283.3757" stroke="#777" stroke-width="0.4"/>
<line x1="176.0" y1="281.7757" x2="177.60000000000002" y2="281.7757" stroke="#777" stroke-width="0.4"/>
<line x1="180.8" y1="281.7757" x2="180.8" y2="283.3757" stroke="#777" stroke-width="0.4"/>
<line x1="180.0" y1="281.7757" x2="181.60000000000002" y2="281.7757" stroke="#777" stroke-width="0.4"/>
<text x="180.6" y="291.3" font-size="7.0" text-anchor="end" font-family="Liberation Serif, Times New Roman, serif" fill="#222" transform="rotate(-40 180.6 291.3)">B7-H2</text>
<rect x="188.70000000000002" y="243.23" width="3.8" height="40.37" fill="#0a0a0a"/>
<rect x="192.9" y="248.16" width="3.4" height="35.44" fill="#fff" stroke="#aaa" stroke-width="0.5"/>
<line x1="190.60000000000002" y1="241.62600000000003" x2="190.60000000000002" y2="243.22600000000003" stroke="#777" stroke-width="0.4"/>
<line x1="189.8" y1="241.62600000000003" x2="191.40000000000003" y2="241.62600000000003" stroke="#777" stroke-width="0.4"/>
<line x1="194.60000000000002" y1="246.56060000000002" x2="194.60000000000002" y2="248.16060000000002" stroke="#777" stroke-width="0.4"/>
<line x1="193.8" y1="246.56060000000002" x2="195.40000000000003" y2="246.56060000000002" stroke="#777" stroke-width="0.4"/>
<text x="194.4" y="291.3" font-size="7.0" text-anchor="end" font-family="Liberation Serif, Times New Roman, serif" fill="#222" transform="rotate(-40 194.4 291.3)">B7-H3</text>
<rect x="201.4" y="283.38" width="3.8" height="0.22" fill="#0a0a0a"/>
<rect x="205.6" y="283.38" width="3.4" height="0.22" fill="#fff" stroke="#aaa" stroke-width="0.5"/>
<line x1="203.3" y1="281.7757" x2="203.3" y2="283.3757" stroke="#777" stroke-width="0.4"/>
<line x1="202.5" y1="281.7757" x2="204.10000000000002" y2="281.7757" stroke="#777" stroke-width="0.4"/>
<line x1="207.3" y1="281.7757" x2="207.3" y2="283.3757" stroke="#777" stroke-width="0.4"/>
<line x1="206.5" y1="281.7757" x2="208.10000000000002" y2="281.7757" stroke="#777" stroke-width="0.4"/>
<text x="207.1" y="291.3" font-size="7.0" text-anchor="end" font-family="Liberation Serif, Times New Roman, serif" fill="#222" transform="rotate(-40 207.1 291.3)">B7-H4</text>
<rect x="214.6" y="283.38" width="3.8" height="0.22" fill="#0a0a0a"/>
<rect x="218.79999999999998" y="283.38" width="3.4" height="0.22" fill="#fff" stroke="#aaa" stroke-width="0.5"/>
<line x1="216.5" y1="281.7757" x2="216.5" y2="283.3757" stroke="#777" stroke-width="0.4"/>
<line x1="215.7" y1="281.7757" x2="217.3" y2="281.7757" stroke="#777" stroke-width="0.4"/>
<line x1="220.5" y1="281.7757" x2="220.5" y2="283.3757" stroke="#777" stroke-width="0.4"/>
<line x1="219.7" y1="281.7757" x2="221.3" y2="281.7757" stroke="#777" stroke-width="0.4"/>
<text x="220.29999999999998" y="291.3" font-size="7.0" text-anchor="end" font-family="Liberation Serif, Times New Roman, serif" fill="#222" transform="rotate(-40 220.29999999999998 291.3)">B7-DC</text>
</g>
</svg>
</body></html>
